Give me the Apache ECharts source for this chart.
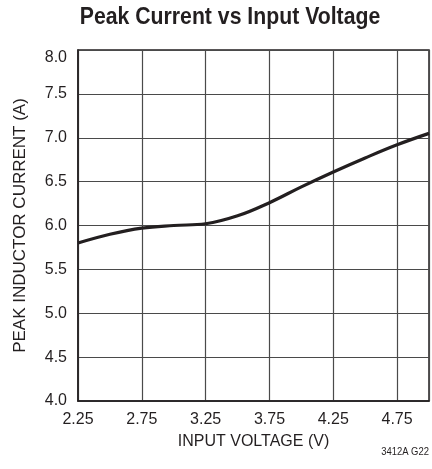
<!DOCTYPE html>
<html><head><meta charset="utf-8">
<script src="https://cdn.jsdelivr.net/npm/echarts@6/dist/echarts.min.js"></script>
<style>html,body{margin:0;padding:0;background:#fff}#c{width:432px;height:469px}</style>
</head><body><div id="c"></div>
<script>
var voltage = [2.25, 2.5, 2.75, 3.0, 3.25, 3.5, 3.75, 4.0, 4.25, 4.5, 4.75, 5.0];
var current = [5.80, 5.90, 5.97, 6.00, 6.02, 6.11, 6.26, 6.44, 6.61, 6.77, 6.92, 7.05];
var xTicks = [2.25, 2.75, 3.25, 3.75, 4.25, 4.75];
var yTicks = [4.0, 4.5, 5.0, 5.5, 6.0, 6.5, 7.0, 7.5, 8.0];
var titleText = 'Peak Current vs Input Voltage';
var noteText = '3412A G22';

var FONT = "'Liberation Sans', Arial, sans-serif";
var TXT = '#231f20';
var chart = echarts.init(document.getElementById('c'), null, {renderer: 'canvas'});
chart.setOption({
  animation: false,
  graphic: [{
    type: 'text', x: 230, y: 17, scaleX: 0.885,
    style: {text: titleText, x: 0, y: 0, align: 'center', verticalAlign: 'middle',
            font: "bold 24px 'Liberation Sans', Arial, sans-serif", fill: TXT}
  }, {
    type: 'text', x: 429, y: 452, scaleX: 0.86,
    style: {text: noteText, x: 0, y: 0, align: 'right', verticalAlign: 'middle',
            font: "11px 'Liberation Sans', Arial, sans-serif", fill: TXT}
  }],
  grid: {left: 78, right: 3, top: 50, bottom: 68, containLabel: false,
         show: true, borderColor: '#231f20', borderWidth: 1.5},
  xAxis: {
    type: 'value', min: 2.25, max: 5.0, interval: 0.5,
    name: 'INPUT VOLTAGE (V)', nameLocation: 'middle', nameGap: 33,
    nameTextStyle: {fontFamily: FONT, fontSize: 16, color: TXT},
    axisLine: {show: true, lineStyle: {color: '#231f20', width: 1.5}},
    axisTick: {show: false},
    axisLabel: {fontFamily: FONT, fontSize: 16, color: TXT, margin: 11,
      formatter: function (v) { return xTicks.indexOf(+v.toFixed(2)) >= 0 ? v.toFixed(2) : ''; }},
    splitLine: {show: true, lineStyle: {color: '#4a4a4a', width: 1.2}}
  },
  yAxis: {
    type: 'value', min: 4, max: 8, interval: 0.5,
    name: 'PEAK INDUCTOR CURRENT (A)', nameLocation: 'middle', nameGap: 49,
    nameTextStyle: {fontFamily: FONT, fontSize: 17, color: TXT},
    axisLine: {show: true, lineStyle: {color: '#231f20', width: 1.5}},
    axisTick: {show: false},
    axisLabel: {fontFamily: FONT, fontSize: 16, color: TXT, margin: 11,
      verticalAlignMaxLabel: 'top',
      formatter: function (v) { return yTicks.indexOf(+v.toFixed(1)) >= 0 ? v.toFixed(1) : ''; }},
    splitLine: {show: true, lineStyle: {color: '#4a4a4a', width: 1.2}}
  },
  series: [{
    type: 'line', smooth: 0.4, symbol: 'none',
    data: voltage.map(function (v, i) { return [v, current[i]]; }),
    lineStyle: {color: '#231f20', width: 3.2}
  }]
});
</script></body></html>
